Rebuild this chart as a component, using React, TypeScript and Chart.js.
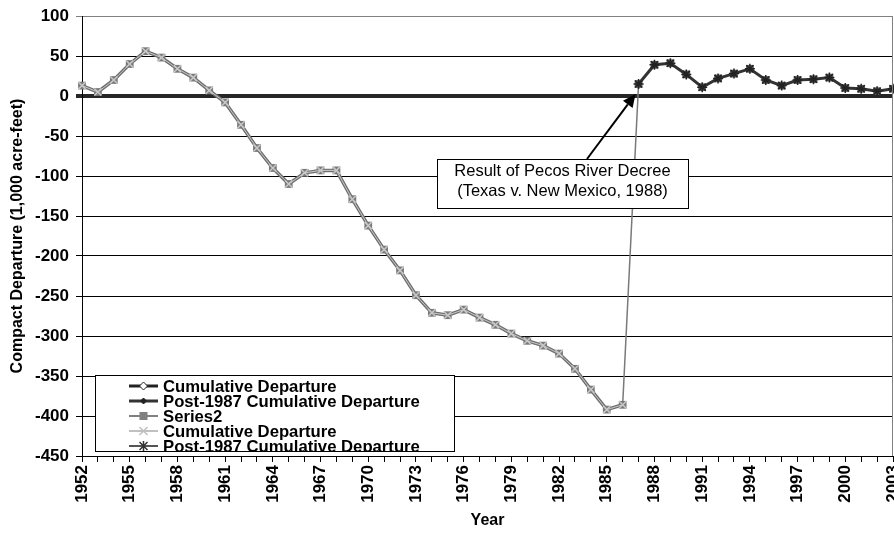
import React, { useEffect, useRef } from 'react';
import { Chart, registerables } from 'chart.js';

Chart.register(...registerables);

const years = [
  '1952', '1953', '1954', '1955', '1956', '1957', '1958', '1959', '1960', '1961',
  '1962', '1963', '1964', '1965', '1966', '1967', '1968', '1969', '1970', '1971',
  '1972', '1973', '1974', '1975', '1976', '1977', '1978', '1979', '1980', '1981',
  '1982', '1983', '1984', '1985', '1986', '1987', '1988', '1989', '1990', '1991',
  '1992', '1993', '1994', '1995', '1996', '1997', '1998', '1999', '2000', '2001',
  '2002', '2003',
];

// Cumulative departure 1952-1986 (1,000 acre-feet)
const preDecreeValues = [
  13, 5, 20, 40, 56, 48, 34, 23, 7, -8,
  -36, -65, -90, -110, -96, -93, -93, -129, -162, -192,
  -218, -249, -271, -274, -267, -277, -286, -297, -306, -312,
  -322, -341, -367, -392, -386,
];

// Post-1987 cumulative departure 1987-2003
const postDecreeValues = [
  15, 39, 41, 27, 11, 22, 28, 34, 20, 13, 20, 21, 23, 10, 9, 6, 9,
];

const yMin = -450;
const yMax = 100;
const yStep = 50;

const legendLabels = [
  'Cumulative Departure',
  'Post-1987 Cumulative Departure',
  'Series2',
  'Cumulative Departure',
  'Post-1987 Cumulative Departure',
];

const annotationLines = ['Result of Pecos River Decree', '(Texas v. New Mexico, 1988)'];
const xTitle = 'Year';
const yTitle = 'Compact Departure (1,000 acre-feet)';

const FONT = '"Liberation Sans", Arial, sans-serif';

const postStart = preDecreeValues.length;
const preFull = years.map((_, i) => (i < postStart ? preDecreeValues[i] : null));
const postFull = years.map((_, i) => (i >= postStart ? postDecreeValues[i - postStart] : null));
const connectorFull = years.map((_, i) =>
  i === postStart - 1 ? preDecreeValues[postStart - 1] : i === postStart ? postDecreeValues[0] : null
);

function drawMarker(ctx: CanvasRenderingContext2D, kind: string, x: number, y: number) {
  ctx.save();
  if (kind === 'diamondWhite' || kind === 'diamondBlack') {
    const r = kind === 'diamondWhite' ? 4 : 3;
    ctx.beginPath();
    ctx.moveTo(x, y - r);
    ctx.lineTo(x + r, y);
    ctx.lineTo(x, y + r);
    ctx.lineTo(x - r, y);
    ctx.closePath();
    ctx.fillStyle = kind === 'diamondWhite' ? '#fff' : '#222';
    ctx.fill();
    ctx.strokeStyle = '#222';
    ctx.lineWidth = 1;
    ctx.stroke();
  } else if (kind === 'square') {
    ctx.fillStyle = '#808080';
    ctx.fillRect(x - 4, y - 4, 8, 8);
  } else if (kind === 'x') {
    ctx.strokeStyle = '#c0c0c0';
    ctx.lineWidth = 1.5;
    ctx.beginPath();
    ctx.moveTo(x - 4, y - 4);
    ctx.lineTo(x + 4, y + 4);
    ctx.moveTo(x + 4, y - 4);
    ctx.lineTo(x - 4, y + 4);
    ctx.stroke();
  } else if (kind === 'star') {
    ctx.strokeStyle = '#333';
    ctx.lineWidth = 1.5;
    ctx.beginPath();
    ctx.moveTo(x - 4, y - 4);
    ctx.lineTo(x + 4, y + 4);
    ctx.moveTo(x + 4, y - 4);
    ctx.lineTo(x - 4, y + 4);
    ctx.moveTo(x, y - 5);
    ctx.lineTo(x, y + 5);
    ctx.stroke();
  }
  ctx.restore();
}

const legendStyles = [
  { line: '#222', width: 3, marker: 'diamondWhite' },
  { line: '#333', width: 3, marker: 'diamondBlack' },
  { line: '#808080', width: 2, marker: 'square' },
  { line: '#c0c0c0', width: 2, marker: 'x' },
  { line: '#555', width: 2, marker: 'star' },
];

const overlayPlugin = {
  id: 'overlay',
  afterDraw(chart: any) {
    const ctx: CanvasRenderingContext2D = chart.ctx;
    const ca = chart.chartArea;
    const xs = chart.scales.x;
    const ys = chart.scales.y;

    // right plot border
    ctx.save();
    ctx.strokeStyle = '#808080';
    ctx.lineWidth = 1;
    ctx.beginPath();
    ctx.moveTo(ca.right - 0.5, ca.top);
    ctx.lineTo(ca.right - 0.5, ca.bottom);
    ctx.stroke();
    ctx.restore();

    // Annotation box
    const bx = 437, by = 159, bw = 251, bh = 49;
    ctx.save();
    ctx.fillStyle = '#fff';
    ctx.fillRect(bx, by, bw, bh);
    ctx.strokeStyle = '#000';
    ctx.lineWidth = 1;
    ctx.strokeRect(bx + 0.5, by + 0.5, bw, bh);
    ctx.fillStyle = '#000';
    ctx.font = `16.5px ${FONT}`;
    ctx.textAlign = 'center';
    ctx.textBaseline = 'middle';
    ctx.fillText(annotationLines[0], bx + bw / 2, by + 12);
    ctx.fillText(annotationLines[1], bx + bw / 2, by + 32);

    // Arrow
    const sx = 587, sy = by;
    const tx = xs.getPixelForValue(postStart) - 3;
    const ty = ys.getPixelForValue(0) - 2;
    const ang = Math.atan2(ty - sy, tx - sx);
    const headLen = 13, headW = 6;
    const hx = tx - headLen * Math.cos(ang);
    const hy = ty - headLen * Math.sin(ang);
    ctx.strokeStyle = '#000';
    ctx.lineWidth = 2;
    ctx.beginPath();
    ctx.moveTo(sx, sy);
    ctx.lineTo(hx, hy);
    ctx.stroke();
    ctx.beginPath();
    ctx.moveTo(tx, ty);
    ctx.lineTo(hx + headW * Math.sin(ang), hy - headW * Math.cos(ang));
    ctx.lineTo(hx - headW * Math.sin(ang), hy + headW * Math.cos(ang));
    ctx.closePath();
    ctx.fillStyle = '#000';
    ctx.fill();
    ctx.restore();

    // Legend
    const lx = 95, ly = 375, lw = 359, lh = 76;
    ctx.save();
    ctx.fillStyle = '#fff';
    ctx.fillRect(lx, ly, lw, lh);
    ctx.beginPath();
    ctx.rect(lx, ly, lw, lh);
    ctx.clip();
    legendLabels.forEach((label, i) => {
      const cy = 386 + i * 15;
      const st = legendStyles[i];
      ctx.strokeStyle = st.line;
      ctx.lineWidth = st.width;
      ctx.beginPath();
      ctx.moveTo(129, cy);
      ctx.lineTo(158, cy);
      ctx.stroke();
      drawMarker(ctx, st.marker, 143.5, cy);
      ctx.fillStyle = '#000';
      ctx.font = `bold 16.7px ${FONT}`;
      ctx.textAlign = 'left';
      ctx.textBaseline = 'middle';
      ctx.fillText(label, 163, cy + 1);
    });
    ctx.restore();
    ctx.save();
    ctx.strokeStyle = '#000';
    ctx.lineWidth = 1;
    ctx.strokeRect(lx + 0.5, ly + 0.5, lw, lh);
    ctx.restore();
  },
};

export default function App() {
  const ref = useRef<HTMLCanvasElement>(null);

  useEffect(() => {
    document.body.style.margin = '0';
    const canvas = ref.current!;
    const chart = new Chart(canvas, {
      type: 'line',
      data: {
        labels: years,
        datasets: [
          {
            label: 'Post-1987 Cumulative Departure',
            data: postFull,
            borderColor: '#333',
            borderWidth: 3,
            pointStyle: 'star',
            pointRadius: 5,
            pointBorderColor: '#222',
            pointBackgroundColor: '#222',
            pointBorderWidth: 1.5,
            spanGaps: false,
            clip: 10,
            order: 1,
          },
          {
            label: 'Series2',
            data: postFull,
            borderColor: 'rgba(0,0,0,0)',
            borderWidth: 0,
            showLine: false,
            pointStyle: 'rect',
            pointRadius: 5.5,
            pointBorderWidth: 0,
            pointBackgroundColor: '#5a5a5a',
            pointBorderColor: '#5a5a5a',
            clip: 10,
            order: 2,
          },
          {
            label: 'Cumulative Departure',
            data: preFull,
            borderColor: '#c8c8c8',
            borderWidth: 1,
            pointStyle: 'crossRot',
            pointRadius: 5,
            pointBorderColor: '#c8c8c8',
            pointBorderWidth: 1.5,
            clip: 10,
            order: 3,
          },
          {
            label: 'Series2',
            data: preFull,
            borderColor: '#707070',
            borderWidth: 3.5,
            pointStyle: 'rect',
            pointRadius: 5.5,
            pointBorderWidth: 0,
            pointBackgroundColor: '#7a7a7a',
            pointBorderColor: '#7a7a7a',
            clip: 10,
            order: 4,
          },
          {
            label: 'connector',
            data: connectorFull,
            borderColor: '#7a7a7a',
            borderWidth: 1.5,
            pointRadius: 0,
            clip: 10,
            order: 5,
          },
        ],
      },
      options: {
        animation: false,
        responsive: false,
        devicePixelRatio: 1,
        events: [],
        layout: { autoPadding: false, padding: { top: 16, right: 1, bottom: 0, left: 0 } },
        plugins: {
          legend: { display: false },
          tooltip: { enabled: false },
          title: { display: false },
        },
        scales: {
          x: {
            type: 'category',
            offset: false,
            afterFit: (s: any) => {
              s.height = 77;
              s.paddingLeft = 0;
              s.paddingRight = 0;
            },
            grid: {
              drawOnChartArea: false,
              drawTicks: true,
              tickLength: 6,
              color: '#000',
              lineWidth: 1,
            },
            border: { display: true, color: '#000', width: 1 },
            ticks: {
              autoSkip: false,
              maxRotation: 90,
              minRotation: 90,
              padding: 3,
              color: '#000',
              font: { family: FONT, size: 17, weight: 'bold' },
              callback: (_v: any, i: number) => (i % 3 === 0 ? years[i] : ''),
            },
            title: {
              display: true,
              text: xTitle,
              color: '#000',
              font: { family: FONT, size: 16, weight: 'bold' },
              padding: { top: 0, bottom: 3 },
            },
          },
          y: {
            min: yMin,
            max: yMax,
            afterFit: (s: any) => {
              s.width = 82;
              s.paddingTop = 0;
              s.paddingBottom = 0;
            },
            grid: {
              color: (c: any) =>
                c.tick && c.tick.value === 0 ? '#262626' : c.tick && c.tick.value === yMax ? '#808080' : '#000',
              lineWidth: (c: any) => (c.tick && c.tick.value === 0 ? 4 : 1),
              drawTicks: true,
              tickLength: 6,
            },
            border: { display: true, color: '#000', width: 1 },
            ticks: {
              stepSize: yStep,
              padding: 7,
              color: '#000',
              font: { family: FONT, size: 17, weight: 'bold' },
            },
            title: {
              display: true,
              text: yTitle,
              color: '#000',
              font: { family: FONT, size: 16, weight: 'bold' },
              padding: { top: 8, bottom: 0 },
            },
          },
        },
      },
      plugins: [overlayPlugin],
    } as any);
    return () => chart.destroy();
  }, []);

  return (
    <div style={{ width: 894, height: 533 }}>
      <canvas ref={ref} width={894} height={533} style={{ display: 'block', width: 894, height: 533 }} />
    </div>
  );
}
